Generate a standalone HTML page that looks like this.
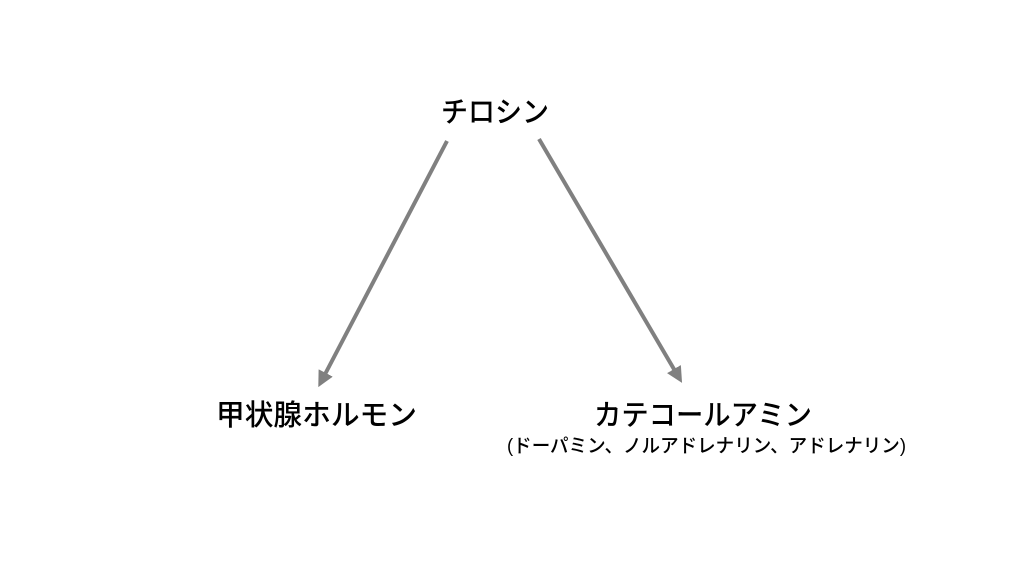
<!DOCTYPE html>
<html><head><meta charset="utf-8"><style>
html,body{margin:0;padding:0;background:#fff;}
svg{display:block;}
text{font-family:"Liberation Sans","Noto Sans CJK JP",sans-serif;fill:#000;}
</style></head><body>
<svg width="1024" height="576" viewBox="0 0 1024 576">
<defs><marker id="a" markerWidth="4" markerHeight="4" refX="2" refY="2" orient="auto" markerUnits="strokeWidth">
<path d="M0,0 L4,2 L0,4 z" fill="#808080"/></marker></defs>
<line x1="447" y1="141" x2="322" y2="380" stroke="#808080" stroke-width="4" marker-end="url(#a)"/>
<line x1="539" y1="139" x2="678" y2="376" stroke="#808080" stroke-width="4" marker-end="url(#a)"/>
<text x="441" y="122" font-size="29" font-weight="500" textLength="108" lengthAdjust="spacingAndGlyphs">チロシン</text>
<text x="216" y="425" font-size="29" font-weight="500" textLength="201" lengthAdjust="spacingAndGlyphs">甲状腺ホルモン</text>
<text x="594" y="425" font-size="29" font-weight="500" textLength="218" lengthAdjust="spacingAndGlyphs">カテコールアミン</text>
<text x="507" y="452" font-size="19" font-weight="500" textLength="399" lengthAdjust="spacingAndGlyphs">(ドーパミン、ノルアドレナリン、アドレナリン)</text>
</svg>
</body></html>
